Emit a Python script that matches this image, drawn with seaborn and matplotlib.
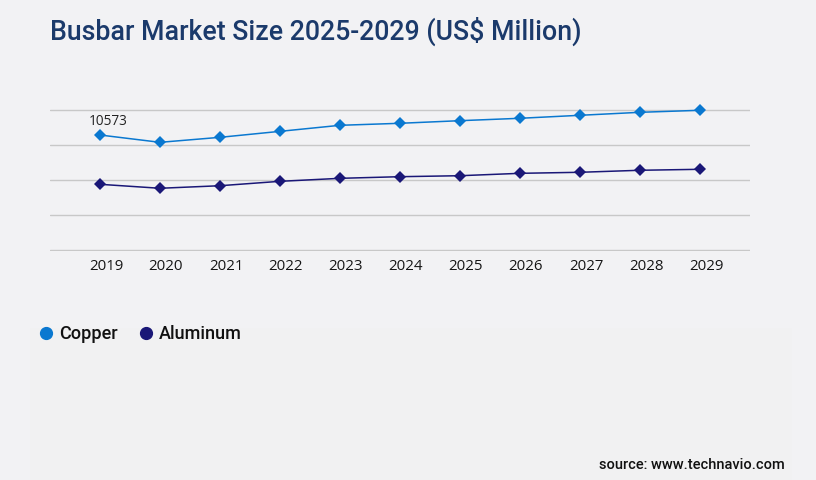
import numpy as np
import pandas as pd
import seaborn as sns
import matplotlib.pyplot as plt
from matplotlib.patches import Rectangle
from matplotlib.lines import Line2D

# values (US$ million)
years = [2019, 2020, 2021, 2022, 2023, 2024, 2025, 2026, 2027, 2028, 2029]
copper = [10573, 9900, 10360, 10910, 11465, 11650, 11890, 12110, 12385, 12660, 12845]
aluminum = [6040, 5675, 5910, 6315, 6590, 6740, 6830, 7050, 7145, 7330, 7420]
series_names = ["Copper", "Aluminum"]
series_colors = ["#0a78d0", "#1a1777"]

df = pd.DataFrame({"year": years * 2,
                   "value": copper + aluminum,
                   "series": [series_names[0]] * len(years) + [series_names[1]] * len(years)})

sns.set_style("white")
plt.rcParams["font.family"] = ["Roboto", "DejaVu Sans"]

bg = "#f2f2f4"
fig = plt.figure(figsize=(8.16, 4.8), dpi=100, facecolor=bg)
# faint lower panel
fig.patches.append(Rectangle((30 / 816, 0), 762 / 816, 152 / 480, transform=fig.transFigure,
                             facecolor="#f1f1f2", edgecolor="none", zorder=0))

ax = fig.add_axes([50 / 816, 1 - 251 / 480, 700 / 816, 142 / 480])
ax.set_facecolor("none")

sns.lineplot(data=df, x="year", y="value", hue="series", palette=series_colors,
             marker="D", markersize=6.5, markeredgewidth=0, linewidth=1.1,
             legend=False, ax=ax, clip_on=False)

top = 12872
pad = top / 140
ax.set_ylim(-pad, top + pad)
ax.set_xlim(years[0] - 50 / 60, years[-1] + 50 / 60)
ax.set_yticks(np.linspace(0, top, 5))
ax.yaxis.grid(True, color="#c8c8c8", linewidth=1)
ax.set_yticklabels([])
# year labels sit a little right of the points in the original
ax.set_xticks([y + 0.1 for y in years])
ax.set_xticklabels([str(y) for y in years], fontsize=10.8, color="#151515",
                   family=["Open Sans", "DejaVu Sans"])
ax.tick_params(axis="x", length=0, pad=6)
ax.tick_params(axis="y", length=0)
ax.set_xlabel("")
ax.set_ylabel("")
for s in ax.spines.values():
    s.set_visible(False)
ax.set_axisbelow(True)

ax.annotate(f"{copper[0]}", (years[0], copper[0]), xytext=(6, 10), textcoords="offset points",
            ha="center", va="center", fontsize=9.8, color="#222222",
            family=["Open Sans", "DejaVu Sans"])

fig.text(50 / 816, 1 - 31 / 480, "Busbar Market Size 2025-2029 (US$ Million)",
         fontsize=19.3, fontweight="medium", color="#1b3a6b", va="center", ha="left")

handles = [Line2D([], [], linestyle="none", marker="o", markersize=8.5, color=c) for c in series_colors]
fig.legend(handles, series_names, loc="center left", bbox_to_anchor=(37 / 816, 1 - 334 / 480),
           ncol=2, frameon=False, handletextpad=0.2, columnspacing=1.1,
           handlelength=1.0, borderaxespad=0, borderpad=0,
           prop={"family": ["Roboto", "DejaVu Sans"], "size": 13, "weight": "medium"},
           labelcolor="#111111")

fig.text(785 / 816, 1 - 465 / 480, "source: www.technavio.com", fontsize=10.5,
         fontweight="medium", color="#111111", ha="right", va="center")

fig.savefig("out.png", dpi=100, facecolor=bg)
